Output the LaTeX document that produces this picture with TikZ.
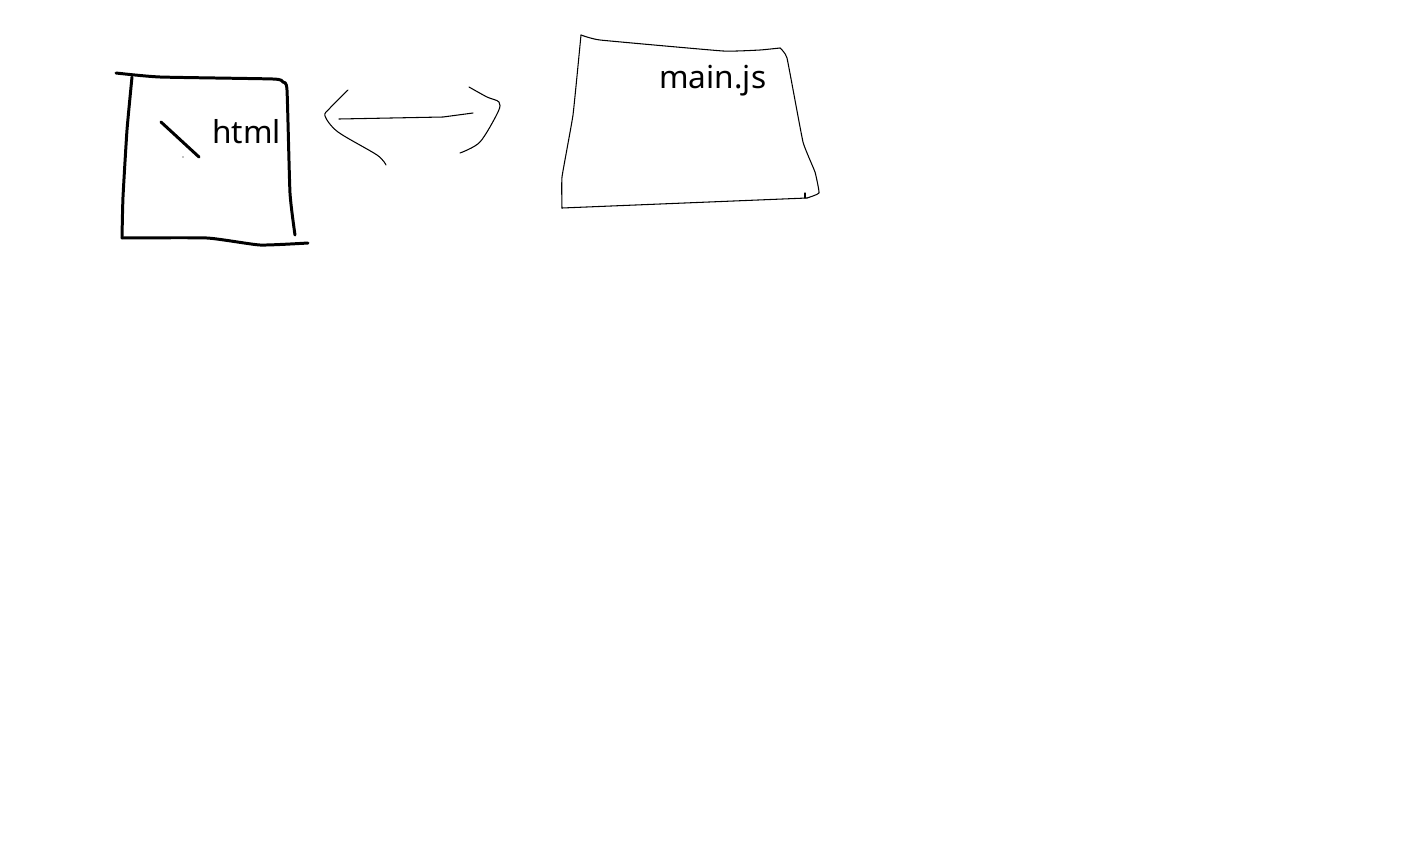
\documentclass[tikz,border=0pt]{standalone}
\usepackage{fontspec}
\setmainfont{Noto Sans}
\begin{document}
\begin{tikzpicture}[x=0.02cm,y=-0.02cm,
    heavy/.style={line width=1.7pt,line cap=round,line join=round},
    light/.style={line width=0.6pt,line cap=round,line join=round},
    label/.style={anchor=base west,inner sep=0pt,font=\fontsize{18}{20}\selectfont}]
    \useasboundingbox (0,0) rectangle (1404,866);
    % html box
    \draw [heavy] plot [smooth,tension=.3] coordinates {(116,73) (160,77) (273,79) (283,82) (287,90) (290,193) (295,235)};
    \draw [heavy] plot [smooth,tension=.3] coordinates {(132,77) (127,130) (123,197) (122,238)};
    \draw [heavy] plot [smooth,tension=.3] coordinates {(122,238) (207,238) (260,245) (308,243)};
    \draw [heavy] (161,122) -- (199,157);
    \fill (183,157) circle (0.6);
    \node [label] (html) at (212,143) {html};
    % arrow
    \coordinate (tail) at (339,119);
    \coordinate (head) at (473,113);
    \draw [light] plot [smooth,tension=.5] coordinates {(348,90) (330,108) (325,116) (338,132) (377,155) (386,165)};
    \draw [light] (tail) -- (443,117) -- (head);
    \draw [light] plot [smooth,tension=.5] coordinates {(469,87) (487,97) (499,102) (498,112) (480,142) (460,153)};
    % main.js box
    \draw [light] plot [smooth,tension=.2] coordinates {(581,35) (600,40) (723,51) (760,50) (780,48)};
    \draw [light] plot [smooth,tension=.2] coordinates {(780,48) (787,58) (803,142) (815,172) (819,193) (807,198)};
    \draw [light] (807,198) -- (562,208);
    \draw [light] plot [smooth,tension=.2] coordinates {(562,208) (562,177) (573,115) (581,35)};
    \draw [light] (805,193) -- (805,198);
    \node [label] (main) at (659,88) {main.js};
\end{tikzpicture}
\end{document}
